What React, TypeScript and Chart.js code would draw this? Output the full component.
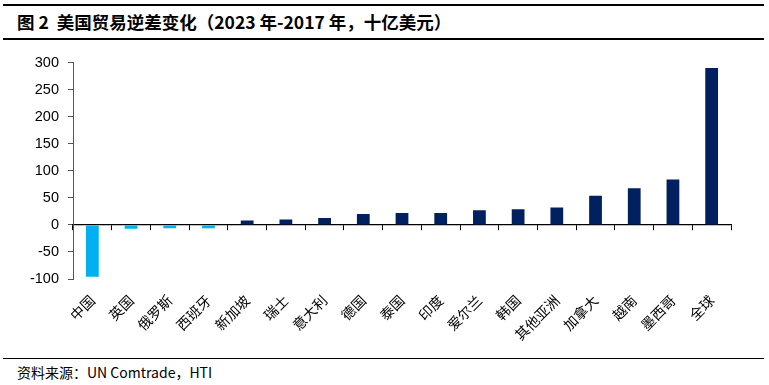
import React, { useEffect, useRef } from "react";
import { Chart, registerables } from "chart.js";

Chart.register(...registerables);

const categories = ["中国", "英国", "俄罗斯", "西班牙", "新加坡", "瑞士", "意大利", "德国", "泰国", "印度", "爱尔兰", "韩国", "其他亚洲", "加拿大", "越南", "墨西哥", "全球"];
const deficitChange = [-96, -7, -6, -6, 8, 10, 13, 20, 22, 22, 27, 29, 32, 54, 68, 84, 290];
const yTicks = [-100, -50, 0, 50, 100, 150, 200, 250, 300];

const NEG = "#00B0F0";
const POS = "#002060";

export default function App() {
  const ref = useRef<HTMLCanvasElement | null>(null);

  useEffect(() => {
    document.body.style.margin = "0";
    const ctx = ref.current!;
    const chart = new Chart(ctx, {
      type: "bar",
      data: {
        labels: categories,
        datasets: [
          {
            data: deficitChange,
            backgroundColor: deficitChange.map((v) => (v < 0 ? NEG : POS)),
            borderWidth: 0,
            barPercentage: 0.33,
            categoryPercentage: 1,
          },
        ],
      },
      options: {
        animation: false,
        responsive: false,
        maintainAspectRatio: false,
        layout: { padding: { left: 0, right: 38, top: 17, bottom: 0 } },
        plugins: { legend: { display: false }, tooltip: { enabled: false } },
        scales: {
          x: {
            type: "category",
            offset: true,
            grid: { display: false },
            border: { display: false },
            ticks: {
              autoSkip: false,
              minRotation: 45,
              maxRotation: 45,
              padding: 5,
              color: "#000",
              font: { family: "'Noto Sans CJK SC'", size: 14 },
            },
            afterFit: (s: any) => {
              s.height = 76;
            },
          },
          xz: {
            type: "category",
            labels: categories,
            position: { y: 0 } as any,
            offset: true,
            grid: { offset: true, drawOnChartArea: false, drawTicks: true, tickLength: 5, color: "#000", lineWidth: 1 },
            border: { display: true, color: "#000", width: 1.2 },
            ticks: { display: false },
          },
          y: {
            min: -100,
            max: 300,
            afterBuildTicks: (s: any) => {
              s.ticks = yTicks.map((v) => ({ value: v }));
            },
            grid: { drawOnChartArea: false, drawTicks: true, tickLength: 5, color: "#555" },
            border: { display: true, color: "#555", width: 1 },
            ticks: {
              padding: 9,
              color: "#000",
              font: { family: "'Liberation Sans'", size: 14.5 },
            },
            afterFit: (s: any) => {
              s.width = 73;
            },
          },
        },
      },
    });
    return () => chart.destroy();
  }, []);

  return (
    <div style={{ position: "fixed", left: 0, top: 0, width: 769, height: 385, background: "#fff", fontFamily: "'Noto Sans CJK SC'" }}>
      <div style={{ position: "absolute", left: 3, top: 4, width: 761, height: 0, borderTop: "2px solid #000" }} />
      <div
        style={{
          position: "absolute",
          left: 17,
          top: 10,
          fontSize: 17.5,
          fontWeight: "bold",
          lineHeight: "24px",
          color: "#000",
          whiteSpace: "pre",
        }}
      >
        图 2  美国贸易逆差变化（2023 年-2017 年，十亿美元）
      </div>
      <div style={{ position: "absolute", left: 3, top: 38, width: 761, height: 0, borderTop: "2px solid #000" }} />
      <canvas ref={ref} width={769} height={310} style={{ position: "absolute", left: 0, top: 45, width: 769, height: 310 }} />
      <div style={{ position: "absolute", left: 3, top: 358, width: 761, height: 0, borderTop: "1.5px solid #000" }} />
      <div
        style={{
          position: "absolute",
          left: 17,
          top: 363,
          fontSize: 14,
          lineHeight: "18px",
          color: "#000",
          whiteSpace: "pre",
        }}
      >
        资料来源：UN Comtrade，HTI
      </div>
    </div>
  );
}
